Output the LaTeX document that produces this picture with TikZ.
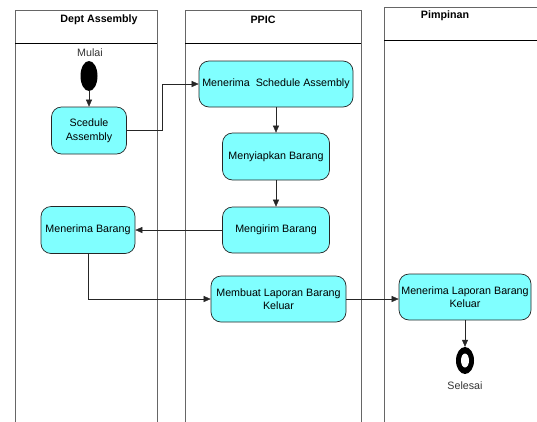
\documentclass[tikz,border=0pt]{standalone}
\usepackage{fontspec}
\setmainfont{Liberation Sans}
\usetikzlibrary{arrows.meta,shapes.geometric}
\definecolor{actfill}{HTML}{80FFFF}
\definecolor{lanegray}{HTML}{666666}
\tikzset{
  act/.style={draw=black!85, line width=0.7pt, fill=actfill, rounded corners=10pt, align=center,
    inner sep=1pt, font=\fontsize{10.7}{13.5}\selectfont},
  lane/.style={draw=lanegray, line width=0.9pt},
  lanehead/.style={font=\fontsize{10.7}{13}\selectfont\bfseries},
  arr/.style={draw=black!85, -{Triangle[length=7pt,width=6pt]}},
  lbl/.style={font=\fontsize{10.7}{13}\selectfont, text=black!80}
}
\begin{document}
\begin{tikzpicture}[x=1pt,y=-1pt]
            \clip (0,0) rectangle (537,421);
            \fill[white] (0,0) rectangle (537,421);

            % swimlanes
            \draw[lane] (15,430) -- (15,10) -- (157,10) -- (157,430);
            \draw (15,43) -- (157,43);
            \node[lanehead] (hA) at (99,20) {Dept Assembly};

            \draw[lane] (185,430) -- (185,10) -- (361,10) -- (361,430);
            \draw (185,43) -- (361,43);
            \node[lanehead] (hB) at (263,20) {PPIC};

            \draw[lane] (384,430) -- (384,7) -- (545,7);
            \draw (384,40) -- (545,40);
            \node[lanehead] (hC) at (445,16) {Pimpinan};

            % start
            \node[lbl] (mulai) at (90,53) {Mulai};
            \node[ellipse, fill=black, minimum width=17pt, minimum height=30pt, inner sep=0pt] (start) at (89,76) {};

            % activities
            \node[act, minimum width=75pt, minimum height=47pt] (sched) at (89,130.5) {Scedule\\Assembly};
            \node[act, minimum width=154pt, minimum height=46pt] (terima) at (276,84) {Menerima~ Schedule Assembly};
            \node[act, minimum width=107pt, minimum height=47pt] (siap) at (276,156.5) {Menyiapkan Barang};
            \node[act, minimum width=107pt, minimum height=46pt] (kirim) at (276,230) {Mengirim Barang};
            \node[act, minimum width=94pt, minimum height=47pt] (barang) at (88,230) {Menerima Barang};
            \node[act, minimum width=135pt, minimum height=46pt] (laporan) at (278.5,299) {Membuat Laporan Barang\\Keluar};
            \node[act, minimum width=132pt, minimum height=46pt] (lapor) at (465,297) {Menerima Laporan Barang\\Keluar};

            % end
            \node[ellipse, fill=black, minimum width=18pt, minimum height=27pt, inner sep=0pt] (stop) at (465,360.5) {};
            \node[ellipse, fill=white, minimum width=8pt, minimum height=14pt, inner sep=0pt] (stopin) at (465,360.5) {};
            \node[lbl] (selesai) at (465,386) {Selesai};

            % flows
            \draw[arr] (start) -- (sched);
            \draw[arr] (sched.east) -- ++(35,0) |- (terima.west);
            \draw[arr] (terima) -- (siap);
            \draw[arr] (siap) -- (kirim);
            \draw[arr] (kirim) -- (barang);
            \draw[arr] (barang.south) |- (laporan.west);
            \draw[arr] (laporan.east) -- (laporan.east -| lapor.west);
            \draw[arr] (lapor) -- (stop);
        \end{tikzpicture}
\end{document}
